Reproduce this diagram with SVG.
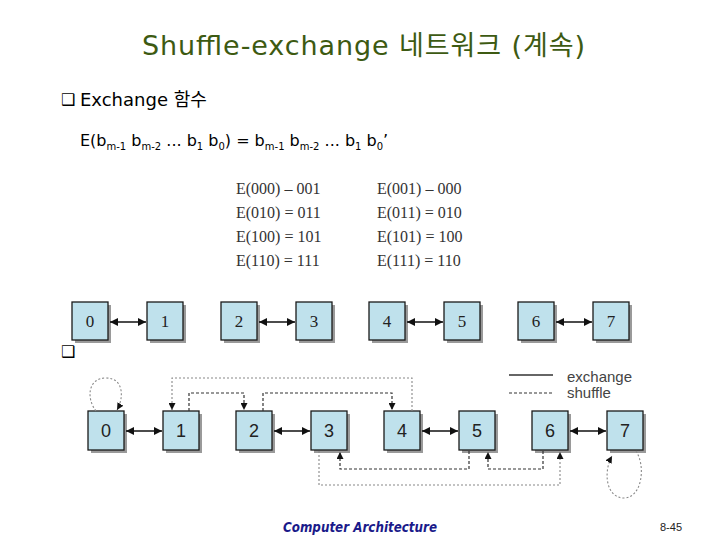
<svg xmlns="http://www.w3.org/2000/svg" width="720" height="540" viewBox="0 0 720 540">
<style>
.title{font-family:"DejaVu Sans","Noto Sans CJK KR",sans-serif;font-size:27px;fill:#3d5a12}
.body{font-family:"DejaVu Sans","Noto Sans CJK KR",sans-serif;fill:#000}
.tbl{font-family:"Liberation Serif",serif;font-size:16px;fill:#333}
.box{fill:#bfe1ec;stroke:#1a1a1a;stroke-width:1.3}
.shadow{fill:#9a9a9a}
.nt{font-family:"Liberation Serif",serif;font-size:17px;fill:#222;text-anchor:middle}
.nb{font-family:"Liberation Sans",sans-serif;font-size:18px;fill:#222;text-anchor:middle}
.ex{stroke:#111;stroke-width:1.4;fill:none;marker-start:url(#ahs);marker-end:url(#ah)}
.sh{stroke:#333;stroke-width:1.2;fill:none;stroke-dasharray:3 2;marker-end:url(#sa)}
.shl{stroke:#888;stroke-width:1.1;fill:none;stroke-dasharray:2 2;marker-end:url(#sa)}
.leg{font-family:"Liberation Sans",sans-serif;font-size:15px;fill:#444}
.bul{font-family:"DejaVu Sans",sans-serif;font-size:16px;fill:#000}
</style>
<defs>
<marker id="ah" viewBox="0 0 10 10" refX="10" refY="5" markerWidth="8" markerHeight="8" markerUnits="userSpaceOnUse" orient="auto"><path d="M0,0 L10,5 L0,10 z" fill="#111"/></marker>
<marker id="ahs" viewBox="0 0 10 10" refX="0" refY="5" markerWidth="8" markerHeight="8" markerUnits="userSpaceOnUse" orient="auto"><path d="M10,0 L0,5 L10,10 z" fill="#111"/></marker>
<marker id="sa" viewBox="0 0 10 10" refX="10" refY="5" markerWidth="7" markerHeight="7" markerUnits="userSpaceOnUse" orient="auto"><path d="M0,0 L10,5 L0,10 z" fill="#111"/></marker>
</defs>
<rect width="720" height="540" fill="#fff"/>

<text class="title" x="142" y="55" textLength="443" lengthAdjust="spacing">Shuffle-exchange 네트워크 (계속)</text>
<text class="bul" x="61" y="105">❑</text>
<text class="body" x="80" y="106" font-size="18">Exchange 함수</text>
<text class="body" x="80" y="146" font-size="16">E(b<tspan font-size="10" dy="4">m-1</tspan><tspan dy="-4"> b</tspan><tspan font-size="10" dy="4">m-2</tspan><tspan dy="-4"> ... b</tspan><tspan font-size="10" dy="4">1</tspan><tspan dy="-4"> b</tspan><tspan font-size="10" dy="4">0</tspan><tspan dy="-4">) = b</tspan><tspan font-size="10" dy="4">m-1</tspan><tspan dy="-4"> b</tspan><tspan font-size="10" dy="4">m-2</tspan><tspan dy="-4"> ... b</tspan><tspan font-size="10" dy="4">1</tspan><tspan dy="-4"> b</tspan><tspan font-size="10" dy="4">0</tspan><tspan dy="-4">’</tspan></text>

<g id="table">
<text class="tbl" x="236" y="194">E(000) – 001</text>
<text class="tbl" x="377" y="194">E(001) – 000</text>
<text class="tbl" x="236" y="218">E(010) = 011</text>
<text class="tbl" x="377" y="218">E(011) = 010</text>
<text class="tbl" x="236" y="242">E(100) = 101</text>
<text class="tbl" x="377" y="242">E(101) = 100</text>
<text class="tbl" x="236" y="266">E(110) = 111</text>
<text class="tbl" x="377" y="266">E(111) = 110</text>
</g>

<text class="bul" x="61" y="357">❑</text>

<!-- top row nodes -->
<g id="t0"><rect class="shadow" x="75" y="305" width="36" height="38"/><rect class="box" x="72" y="302" width="36" height="38"/><text class="nt" x="90" y="327">0</text></g>
<g id="t1"><rect class="shadow" x="150" y="305" width="36" height="38"/><rect class="box" x="147" y="302" width="36" height="38"/><text class="nt" x="165" y="327">1</text></g>
<g id="t2"><rect class="shadow" x="224" y="305" width="36" height="38"/><rect class="box" x="221" y="302" width="36" height="38"/><text class="nt" x="239" y="327">2</text></g>
<g id="t3"><rect class="shadow" x="299" y="305" width="36" height="38"/><rect class="box" x="296" y="302" width="36" height="38"/><text class="nt" x="314" y="327">3</text></g>
<g id="t4"><rect class="shadow" x="372" y="305" width="36" height="38"/><rect class="box" x="369" y="302" width="36" height="38"/><text class="nt" x="387" y="327">4</text></g>
<g id="t5"><rect class="shadow" x="447" y="305" width="36" height="38"/><rect class="box" x="444" y="302" width="36" height="38"/><text class="nt" x="462" y="327">5</text></g>
<g id="t6"><rect class="shadow" x="521" y="305" width="36" height="38"/><rect class="box" x="518" y="302" width="36" height="38"/><text class="nt" x="536" y="327">6</text></g>
<g id="t7"><rect class="shadow" x="596" y="305" width="36" height="38"/><rect class="box" x="593" y="302" width="36" height="38"/><text class="nt" x="611" y="327">7</text></g>

<!-- bottom row nodes -->
<g id="b0"><rect class="shadow" x="91" y="414" width="36" height="39"/><rect class="box" x="88" y="411" width="36" height="39"/><text class="nb" x="106" y="437">0</text></g>
<g id="b1"><rect class="shadow" x="166" y="414" width="36" height="39"/><rect class="box" x="163" y="411" width="36" height="39"/><text class="nb" x="181" y="437">1</text></g>
<g id="b2"><rect class="shadow" x="239" y="414" width="36" height="39"/><rect class="box" x="236" y="411" width="36" height="39"/><text class="nb" x="254" y="437">2</text></g>
<g id="b3"><rect class="shadow" x="314" y="414" width="36" height="39"/><rect class="box" x="311" y="411" width="36" height="39"/><text class="nb" x="329" y="437">3</text></g>
<g id="b4"><rect class="shadow" x="387" y="414" width="36" height="39"/><rect class="box" x="384" y="411" width="36" height="39"/><text class="nb" x="402" y="437">4</text></g>
<g id="b5"><rect class="shadow" x="462" y="414" width="36" height="39"/><rect class="box" x="459" y="411" width="36" height="39"/><text class="nb" x="477" y="437">5</text></g>
<g id="b6"><rect class="shadow" x="535" y="414" width="36" height="39"/><rect class="box" x="532" y="411" width="36" height="39"/><text class="nb" x="550" y="437">6</text></g>
<g id="b7"><rect class="shadow" x="610" y="414" width="36" height="39"/><rect class="box" x="607" y="411" width="36" height="39"/><text class="nb" x="625" y="437">7</text></g>

<g id="legend">
<line x1="509" y1="375" x2="553" y2="375" stroke="#333" stroke-width="1.3"/>
<line x1="509" y1="393" x2="553" y2="393" stroke="#333" stroke-width="1.2" stroke-dasharray="3 2"/>
<text class="leg" x="567" y="382">exchange</text>
<text class="leg" x="567" y="398">shuffle</text>
</g>

<g id="connectors">
<!-- top exchange -->
<line class="ex" x1="110" y1="322" x2="146" y2="322"/>
<line class="ex" x1="259" y1="322" x2="295" y2="322"/>
<line class="ex" x1="407" y1="322" x2="443" y2="322"/>
<line class="ex" x1="556" y1="322" x2="592" y2="322"/>
<!-- bottom exchange -->
<line class="ex" x1="126" y1="431" x2="162" y2="431"/>
<line class="ex" x1="274" y1="431" x2="310" y2="431"/>
<line class="ex" x1="422" y1="431" x2="458" y2="431"/>
<line class="ex" x1="570" y1="431" x2="606" y2="431"/>
<!-- shuffle -->
<path class="shl" d="M96,411 C86,398 88,378 106,378 C124,378 124,398 117,410"/>
<path class="sh" d="M189,411 V393 H244 V410"/>
<path class="sh" d="M263,411 V393 H392 V410"/>
<path class="shl" d="M412,411 V378 H172 V410"/>
<path class="sh" d="M469,451 V469 H340 V452"/>
<path class="sh" d="M543,451 V469 H488 V452"/>
<path class="shl" d="M319,451 V485 H560 V452"/>
<path class="shl" d="M636,451 C646,466 642,498 624,498 C606,498 603,472 612,456"/>
</g>

<text x="283" y="532" font-family="'DejaVu Sans',sans-serif" font-size="14" font-style="italic" font-weight="bold" fill="#1a1a8a" textLength="154" lengthAdjust="spacingAndGlyphs">Computer Architecture</text>
<text x="660" y="531" font-family="'Liberation Sans',sans-serif" font-size="11" fill="#222">8-45</text>
</svg>
